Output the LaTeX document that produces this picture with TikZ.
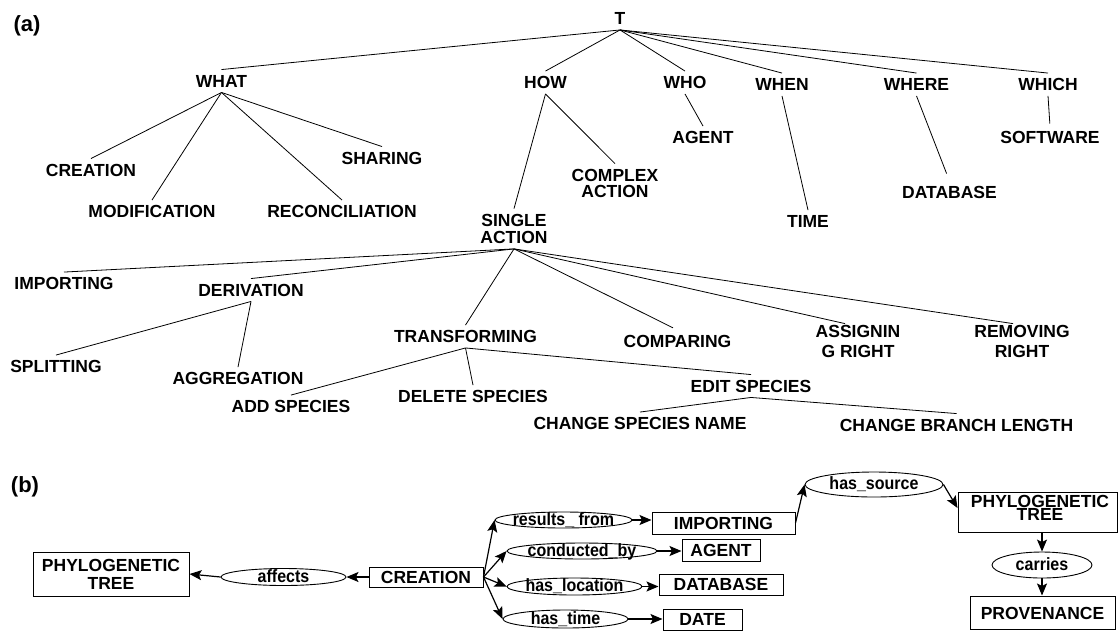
\documentclass[tikz,border=0pt]{standalone}
\usepackage{fontspec}
\setmainfont{Liberation Sans}
\newfontfamily\relfont{Liberation Sans}[FakeStretch=0.9]
\usetikzlibrary{arrows.meta,calc,shapes.geometric}
\begin{document}
\begin{tikzpicture}[x=1pt,y=-1pt,
  lbl/.style={font=\bfseries\fontsize{17.5}{17.5}\selectfont, inner sep=5pt, text height=12.5pt, text depth=0pt},
  lbltwo/.style={font=\bfseries\fontsize{17.5}{#1}\selectfont, inner sep=5pt, align=center},
  panel/.style={font=\bfseries\fontsize{22}{22}\selectfont, inner sep=0pt},
  edge/.style={line width=0.8pt},
  box/.style={draw, line width=1pt, inner sep=0pt, align=center,
    font=\bfseries\fontsize{17.5}{18}\selectfont},
  boxone/.style={box, text height=12.5pt, text depth=0pt},
  rel/.style={draw, ellipse, line width=0.9pt, inner xsep=-70pt, inner ysep=-10pt,
    text height=10.5pt, text depth=0pt, font=\relfont\bfseries\fontsize{17.8}{17.8}\selectfont},
  arr/.style={-{Stealth[length=12pt,width=10pt,inset=2.5pt]}, line width=1.2pt},
]
\fill[white] (0,0) rectangle (1118,630);
\useasboundingbox (0,0) rectangle (1118,630);

% ---------- panel (a): taxonomy tree ----------
\node[panel] (pa) at (27,26) {(a)};

\node[lbl] (t) at (620,18.5) {T};
\node[lbl] (what) at (221.5,81) {WHAT};
\node[lbl] (how) at (545.5,82.5) {HOW};
\node[lbl] (who) at (685,82.5) {WHO};
\node[lbl] (when) at (782,84.5) {WHEN};
\node[lbl] (where) at (916.5,84.5) {WHERE};
\node[lbl] (which) at (1048,84.5) {WHICH};

\node[lbl] (creationA) at (91,170) {CREATION};
\node[lbl] (modification) at (152,211.5) {MODIFICATION};
\node[lbl] (reconciliation) at (342,211.5) {RECONCILIATION};
\node[lbl] (sharing) at (382,158) {SHARING};

\node[lbltwo=16.5] (complex) at (615,183.25) {COMPLEX\\ACTION};
\node[lbltwo=17.5] (single) at (514,228.75) {SINGLE\\ACTION};
\node[lbl] (agentA) at (703,137.5) {AGENT};
\node[lbl] (time) at (808,221.5) {TIME};
\node[lbl] (databaseA) at (949.5,192.5) {DATABASE};
\node[lbl] (software) at (1050,137.5) {SOFTWARE};

\node[lbl] (importingA) at (64,283.5) {IMPORTING};
\node[lbl] (derivation) at (251,290) {DERIVATION};
\node[lbl] (transforming) at (465.5,336.5) {TRANSFORMING};
\node[lbl] (comparing) at (677.5,341.5) {COMPARING};
\node[lbltwo=20.5] (assign) at (858,341.25) {ASSIGNIN\\G RIGHT};
\node[lbltwo=20.5] (removing) at (1022,341.25) {REMOVING\\RIGHT};

\node[lbl] (splitting) at (56,366.5) {SPLITTING};
\node[lbl] (aggregation) at (238,378.5) {AGGREGATION};
\node[lbl] (addsp) at (291,406.5) {ADD SPECIES};
\node[lbl] (deletesp) at (473,396.5) {DELETE SPECIES};
\node[lbl] (editsp) at (751,386) {EDIT SPECIES};
\node[lbl] (changename) at (640,423.5) {CHANGE SPECIES NAME};
\node[lbl] (changebranch) at (956.5,425) {CHANGE BRANCH LENGTH};

\foreach \c in {what,how,who,when,where,which}
  \draw[edge] (t.south) -- (\c.north);
\foreach \c in {creationA,modification,reconciliation,sharing}
  \draw[edge] (what.south) -- (\c.north);
\draw[edge] (how.south) -- (single.north);
\draw[edge] (how.south) -- (complex.north);
\draw[edge] (who.south) -- (agentA.north);
\draw[edge] (when.south) -- (time.north);
\draw[edge, shorten >=8pt] (where.south) -- (databaseA.north);
\draw[edge, shorten >=2.5pt] (which.south) -- (software.north);

\foreach \c in {importingA,derivation,transforming}
  \draw[edge] (single.south) -- (\c.north);
\draw[edge, shorten >=5pt] (single.south) -- (comparing.north);
\draw[edge] (single.south) -- ($(assign.north)+(-13,4)$);
\draw[edge] (single.south) -- ($(removing.north)+(-9,4)$);

\draw[edge] (derivation.south) -- (splitting.north);
\draw[edge] (derivation.south) -- (aggregation.north);
\draw[edge] (transforming.south) -- (addsp.north);
\draw[edge] (transforming.south) -- (deletesp.north);
\draw[edge] (transforming.south) -- (editsp.north);
\draw[edge] (editsp.south) -- (changename.north);
\draw[edge] (editsp.south) -- (changebranch.north);

% ---------- panel (b): provenance graph ----------
\node[panel] (pb) at (25,487) {(b)};

\node[box, minimum width=156pt, minimum height=44pt] (phyloL) at (111,574) {PHYLOGENETIC\\TREE};
\node[rel, minimum width=125pt, minimum height=17pt] (affects) at (283.5,577) {affects};
\node[boxone, minimum width=114pt, minimum height=20pt] (creationB) at (426,577) {CREATION};

\node[rel, minimum width=137pt, minimum height=16pt] (results) at (563.5,520) {results\_ from};
\node[rel, minimum width=150pt, minimum height=16pt] (conducted) at (582,551) {conducted\_by};
\node[rel, minimum width=135pt, minimum height=17pt] (location) at (574.5,586.5) {has\_location};
\node[rel, minimum width=125pt, minimum height=18pt] (hastime) at (565.5,619) {has\_time};

\node[boxone, minimum width=143pt, minimum height=22pt] (importingB) at (723.5,523) {IMPORTING};
\node[boxone, minimum width=78pt, minimum height=22pt] (agentB) at (721,550) {AGENT};
\node[boxone, minimum width=124pt, minimum height=21pt] (databaseB) at (721,584.5) {DATABASE};
\node[boxone, minimum width=79pt, minimum height=21pt] (date) at (702.5,619.5) {DATE};

\node[rel, minimum width=138pt, minimum height=25pt] (hassource) at (874,484.5) {has\_source};
\node[box, minimum width=159pt, minimum height=40pt] (phyloR) at (1037.5,512) {};
\node[font=\bfseries\fontsize{17.5}{17.5}\selectfont, align=center, inner sep=0pt]
  (phyloRtext) at (1040,507.5) {PHYLOGENETIC\\[-4.7pt]TREE};
\node[rel, minimum width=100pt, minimum height=26pt] (carries) at (1042,565) {carries};
\node[boxone, minimum width=145pt, minimum height=33.5pt] (provenance) at (1042.5,612.75) {PROVENANCE};

\draw[arr] (creationB.west) -- (affects.east);
\draw[arr] (affects.west) -- (phyloL.east);

\draw[arr] (creationB.east) -- (results.west);
\draw[arr] (creationB.east) -- (conducted.west);
\draw[arr] (creationB.east) -- (location.west);
\draw[arr] (creationB.east) -- (hastime.west);

\draw[arr] (results.east) -- (results.east -| importingB.west);
\draw[arr] (conducted.east) -- (conducted.east -| agentB.west);
\draw[arr] (location.east) -- (location.east -| databaseB.west);
\draw[arr] (hastime.east) -- (hastime.east -| date.west);

\draw[arr] (importingB.east) -- (hassource.west);
\draw[arr] (hassource.east) -- ($(phyloR.west)+(0,-4)$);
\draw[arr] (carries |- phyloR.south) -- (carries.north);
\draw[arr] (carries.south) -- (carries |- provenance.north);
\end{tikzpicture}
\end{document}
